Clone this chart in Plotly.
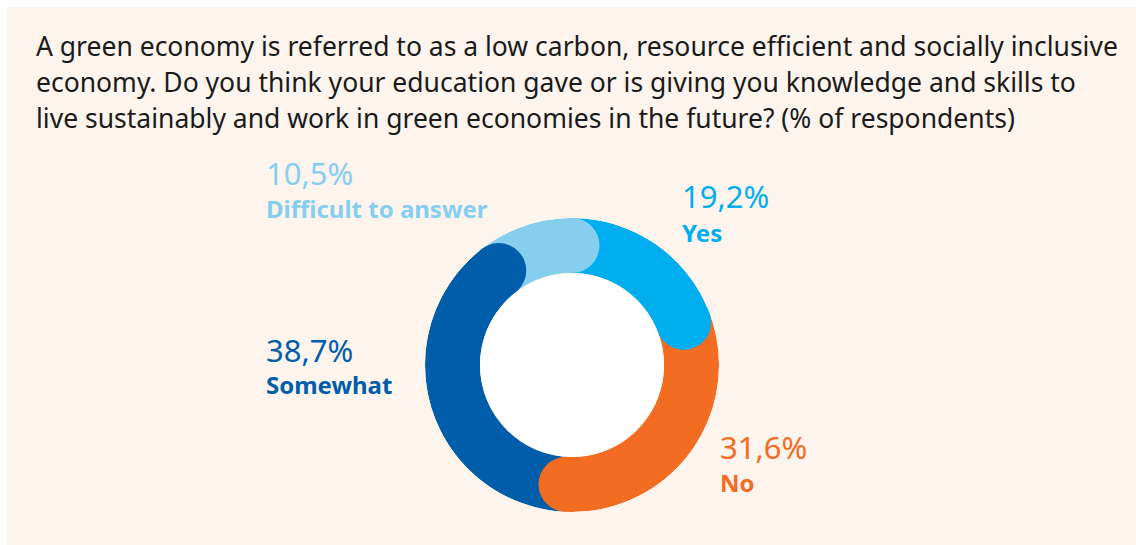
import plotly.graph_objects as go

# Survey answers (% of respondents), in clockwise order starting at 12 o'clock
categories = ["Yes", "No", "Somewhat", "Difficult to answer"]
shares = [19.2, 31.6, 38.7, 10.5]
share_labels = ["19,2%", "31,6%", "38,7%", "10,5%"]
colors = ["#00AEEF", "#F26C22", "#005DA9", "#86CEEE"]

title_lines = [
    "A green economy is referred to as a low carbon, resource efficient and socially inclusive",
    "economy. Do you think your education gave or is giving you knowledge and skills to",
    "live sustainably and work in green economies in the future? (% of respondents)",
]

W, H = 1136, 545
PANEL = "#FEF4EE"
FONT = "Noto Sans"

# Ring geometry in pixels
CX, CY = 572, 365          # centre (from top-left)
R_OUT, R_IN = 147, 92
HOLE = R_IN / R_OUT
THICK = R_OUT - R_IN

# Angular extent of every slice (degrees, clockwise from top)
widths = [s * 3.6 for s in shares]
ends = []
acc = 0.0
for w in widths:
    acc += w
    ends.append(acc)
mids = [e - w / 2 for e, w in zip(ends, widths)]

fig = go.Figure()

fig.add_trace(go.Barpolar(
    r=[1] * len(shares),
    theta=mids,
    width=widths,
    marker=dict(color=colors, line=dict(width=0)),
    hoverinfo="skip",
    showlegend=False,
))

# Rounded cap at the clockwise end of each slice
fig.add_trace(go.Scatterpolar(
    r=[0.5] * len(shares),
    theta=ends,
    mode="markers",
    marker=dict(color=colors, size=THICK, line=dict(width=0)),
    cliponaxis=False,
    hoverinfo="skip",
    showlegend=False,
))

def px_x(x):
    return x / W

def px_y(y):
    return 1 - y / H

fig.update_layout(
    width=W, height=H,
    margin=dict(l=0, r=0, t=0, b=0),
    paper_bgcolor="white",
    plot_bgcolor="rgba(0,0,0,0)",
    polar=dict(
        domain=dict(x=[px_x(CX - R_OUT), px_x(CX + R_OUT)],
                    y=[px_y(CY + R_OUT), px_y(CY - R_OUT)]),
        hole=HOLE,
        bgcolor="rgba(0,0,0,0)",
        bargap=0,
        radialaxis=dict(range=[0, 1], visible=False),
        angularaxis=dict(rotation=90, direction="clockwise", visible=False),
    ),
    shapes=[
        dict(type="rect", xref="paper", yref="paper",
             x0=px_x(7), x1=1, y0=0, y1=px_y(7),
             fillcolor=PANEL, line=dict(width=0), layer="below"),
        dict(type="circle", xref="paper", yref="paper",
             xsizemode="pixel", ysizemode="pixel",
             xanchor=px_x(CX), yanchor=px_y(CY),
             x0=-R_IN, x1=R_IN, y0=-R_IN, y1=R_IN,
             fillcolor="white", line=dict(width=0), layer="below"),
    ],
)

def add_text(text, x, baseline, size, color, bold=False):
    centre = baseline - 0.388 * size
    fig.add_annotation(
        text=text, xref="paper", yref="paper",
        x=px_x(x), y=px_y(centre), xanchor="left", yanchor="middle",
        showarrow=False, align="left",
        font=dict(family=FONT, size=size, color=color,
                  weight="bold" if bold else "normal"),
    )

title_baselines = [56, 92, 128]
for line, b in zip(title_lines, title_baselines):
    add_text(line, 34, b, 26.5, "#1A1A1A")

# Value and category labels placed around the ring
label_pos = {
    "Yes": (680, 208, 242),
    "No": (718, 459, 492),
    "Somewhat": (264, 362, 394),
    "Difficult to answer": (264, 185, 218),
}
for cat, lab, col in zip(categories, share_labels, colors):
    x, b_val, b_cat = label_pos[cat]
    add_text(lab, x, b_val, 31, col)
    add_text(cat, x, b_cat, 24, col, bold=True)

fig.write_html("out.html")
